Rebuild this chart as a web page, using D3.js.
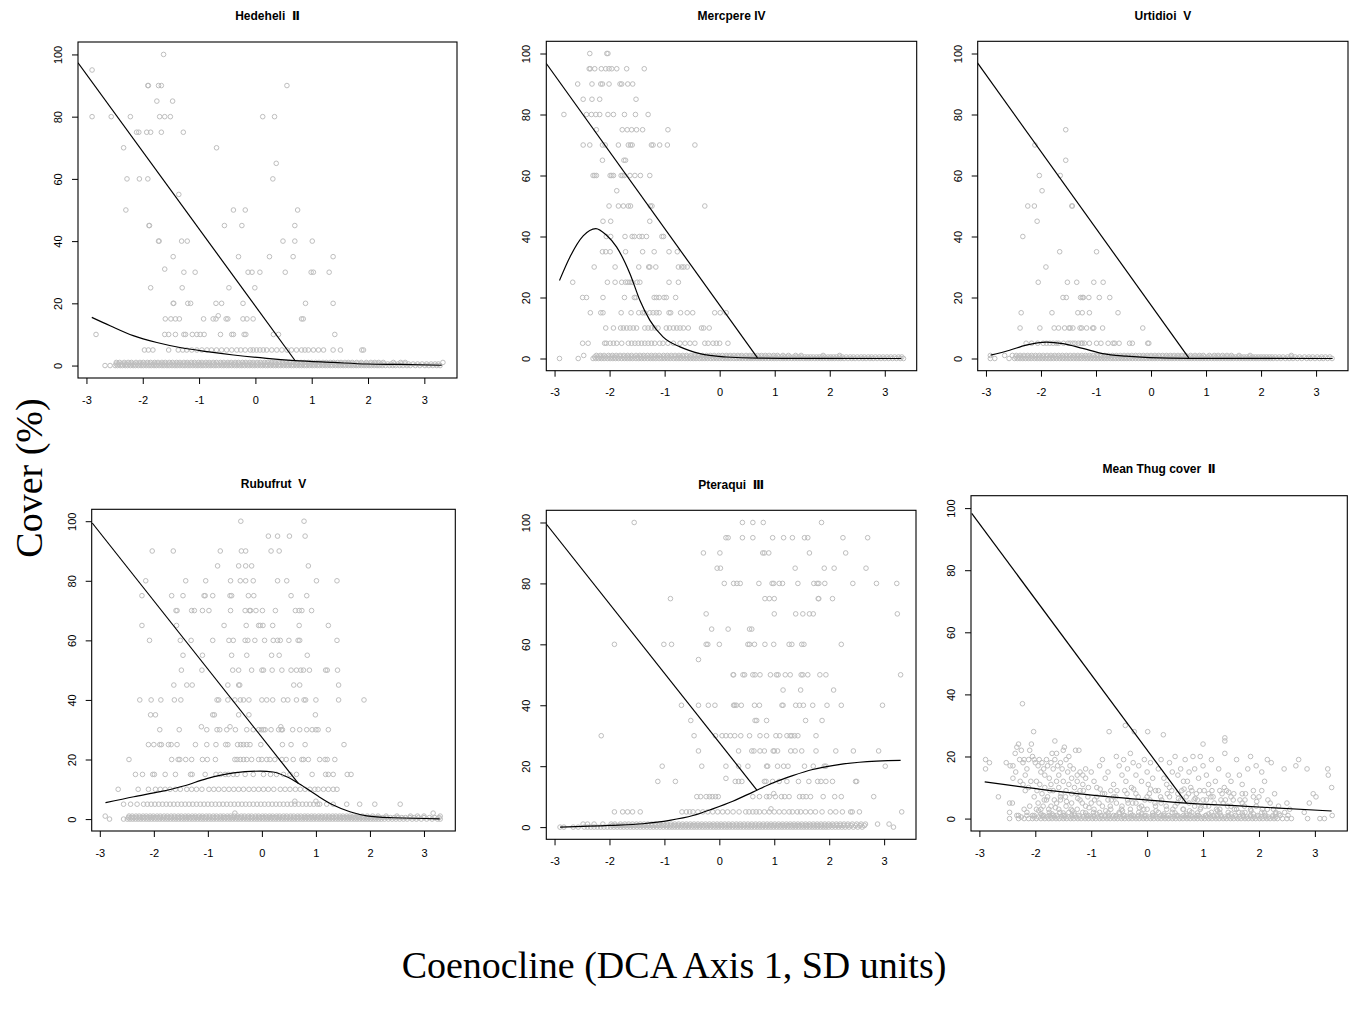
<!DOCTYPE html>
<html>
<head>
<meta charset="utf-8">
<script src="https://cdnjs.cloudflare.com/ajax/libs/d3/7.8.5/d3.min.js"></script>
<style>
body { margin: 0; background: #fff; }
.tick text { font-family: "Liberation Sans", Arial, sans-serif; font-size: 11px; fill: #000; }
.title { font-family: "Liberation Sans", "DejaVu Sans", Arial, sans-serif; font-size: 12px; font-weight: bold; white-space: pre; }
.big { font-family: "Liberation Serif", "Times New Roman", serif; font-size: 38px; }
</style>
</head>
<body>
<script>
// ticks, titles
var xTicks = [-3, -2, -1, 0, 1, 2, 3]
var yTicks = [0, 20, 40, 60, 80, 100]
var titles = ["Hedeheli  \u2161", "Mercpere IV", "Urtidioi  V", "Rubufrut  V", "Pteraqui  \u2162", "Mean Thug cover  \u2161"]

// ---- Hedeheli: [cover, x values at that cover]
var hedeLevels = [
  [100, "-1.63"], [95, "-2.90"], [90, "-1.91 -1.90 -1.72 -1.67 0.56"], [85, "-1.75 -1.47"],
  [80, "-2.90 -2.56 -2.22 -1.70 -1.61 -1.51 0.13 0.34"], [75, "-2.11 -2.07 -1.93 -1.86 -1.67 -1.28"],
  [70, "-2.34 -0.69"], [65, "0.37"], [60, "-2.28 -2.06 -1.91 0.31"], [55, "-1.36"],
  [50, "-2.30 -0.39 -0.18 0.75"], [45, "-1.89 -1.88 -0.55 -0.24 0.70"],
  [40, "-1.72 -1.71 -1.31 -1.21 0.49 0.70 1.01"], [35, "-1.46 -0.30 0.25 0.67 1.38"], [31, "-1.61"],
  [30, "-1.27 -1.07 -0.13 -0.06 0.08 0.53 0.99 1.03 1.31"], [25, "-1.86 -1.30 -0.47 -0.01"],
  [20, "-1.46 -1.45 -1.20 -1.15 -0.70 -0.60 -0.22 0.89 1.38"], [16, "-0.66"],
  [15, "-1.60 -1.50 -1.42 -1.35 -0.92 -0.75 -0.70 -0.52 -0.49 -0.22 -0.15 -0.04 0.82 0.85"],
  [10, "-2.83 -1.61 -1.54 -1.42 -1.27 -1.24 -1.12 -1.04 -0.98 -0.91 -0.62 -0.42 -0.39 -0.20 -0.17 0.32 0.41 1.41"],
  [5, "-1.97 -1.90 -1.82 -1.54 -1.37 -1.29 -1.22 -1.13 -1.04 -0.95 -0.86 -0.78 -0.69 -0.60 -0.51 -0.42 -0.33 -0.26 -0.18 -0.09 -0.04 0.02 0.08 0.14 0.20 0.29 0.38 0.47 0.56 0.64 0.73 0.82 0.88 0.94 1.03 1.12 1.21 1.38 1.51 1.89 1.92"]
]
var hedeZero = "-2.67 -2.58 -2.49 -2.45 -2.40 -2.36 -2.31 -2.27 -2.22 -2.17 -2.13 -2.08 -2.03 -1.99 -1.94 -1.89 -1.85 -1.80 -1.76 -1.71 -1.66 -1.62 -1.57 -1.53 -1.48 -1.43 -1.39 -1.34 -1.29 -1.25 -1.20 -1.16 -1.11 -1.06 -1.02 -0.97 -0.93 -0.88 -0.83 -0.79 -0.74 -0.70 -0.65 -0.60 -0.56 -0.51 -0.47 -0.42 -0.37 -0.33 -0.28 -0.24 -0.19 -0.14 -0.10 -0.05 -0.01 0.04 0.09 0.13 0.18 0.22 0.27 0.32 0.36 0.41 0.45 0.50 0.55 0.59 0.64 0.68 0.73 0.78 0.82 0.87 0.91 0.96 1.01 1.05 1.10 1.14 1.19 1.24 1.28 1.33 1.37 1.42 1.47 1.51 1.56 1.60 1.65 1.70 1.74 1.79 1.83 1.88 1.93 1.97 2.02 2.06 2.11 2.16 2.20 2.25 2.31 2.38 2.44 2.49 2.56 2.62 2.69 2.75 2.84 2.92 3.01 3.08 3.15 3.22 3.28"
var hedeHalf = "-2.47 -2.43 -2.38 -2.33 -2.29 -2.24 -2.19 -2.15 -2.10 -2.05 -2.01 -1.96 -1.92 -1.87 -1.82 -1.78 -1.73 -1.68 -1.64 -1.59 -1.55 -1.50 -1.45 -1.41 -1.36 -1.32 -1.27 -1.22 -1.18 -1.13 -1.08 -1.04 -0.99 -0.95 -0.90 -0.85 -0.81 -0.76 -0.72 -0.67 -0.62 -0.58 -0.53 -0.49 -0.44 -0.39 -0.35 -0.30 -0.26 -0.21 -0.16 -0.12 -0.07 -0.03 0.02 0.06 0.11 0.15 0.20 0.25 0.29 0.34 0.38 0.43 0.48 0.52 0.57 0.61 0.66 0.71 0.75 0.80 0.84 0.89 0.94 0.98 1.03 1.07 1.12 1.17 1.21 1.26 1.30 1.35 1.40 1.44 1.49 1.53 1.58 1.63 1.67 1.72 1.76 1.81 1.86 1.90 1.95 1.99 2.04 2.09 2.13 2.18 2.23 2.28 2.35 2.41 2.47 2.53 2.59 2.66 2.72 2.80 2.88 2.96 3.04 3.12 3.19 3.25"
var hedeOne = "-2.47 -2.41 -2.33 -2.26 -2.20 -2.12 -2.05 -1.99 -1.92 -1.86 -1.79 -1.73 -1.66 -1.60 -1.53 -1.47 -1.40 -1.34 -1.27 -1.21 -1.14 -1.08 -1.01 -0.95 -0.88 -0.82 -0.75 -0.69 -0.62 -0.56 -0.49 -0.43 -0.36 -0.30 -0.23 -0.17 -0.10 -0.04 0.03 0.09 0.16 0.22 0.29 0.35 0.42 0.48 0.55 0.61 0.68 0.74 0.81 0.87 0.94 1.00 1.07 1.13 1.20 1.26 1.33 1.39 1.46 1.52 1.59 1.65 1.72 1.80 1.88 1.97 2.05 2.12 2.19 2.27 2.45 2.58 2.66 3.33"
var hedeCurve = [[-2.905, 15.5], [-2.58, 12.8], [-2.17, 9.6], [-1.75, 7.4], [-1.34, 5.8], [-0.86, 4.5], [-0.39, 3.4], [0.2, 2.3], [0.7, 1.6], [1.385, 1.0], [1.98, 0.5], [2.57, 0.35], [3.31, 0.1]]
var hedeLine = [[-3.15, 97.3], [0.70, 1.7]]

// ---- Mercpere
var mercLevels = [
  [100, "-2.36 -2.05 -2.03"],
  [95, "-2.37 -2.35 -2.27 -2.15 -2.07 -2.01 -1.96 -1.87 -1.69 -1.37"],
  [90, "-2.58 -2.32 -2.16 -2.13 -2.01 -1.81 -1.78 -1.67 -1.58"],
  [85, "-2.48 -2.32 -2.18 -1.52"],
  [80, "-2.83 -2.42 -2.33 -2.25 -2.18 -2.03 -1.93 -1.73 -1.53 -1.30"],
  [75, "-2.24 -1.77 -1.68 -1.60 -1.51 -1.40 -0.94"],
  [70, "-2.48 -2.36 -2.13 -2.08 -1.84 -1.66 -1.62 -1.59 -1.24 -1.21 -1.09 -0.95 -0.45"],
  [65, "-2.13 -1.74 -1.71"],
  [60, "-2.30 -2.27 -2.24 -1.99 -1.96 -1.93 -1.79 -1.76 -1.73 -1.63 -1.54 -1.44 -1.27"],
  [55, "-1.87"],
  [50, "-2.01 -1.84 -1.75 -1.66 -1.62 -1.26 -1.23 -0.27"],
  [45, "-2.12 -1.98 -1.27"],
  [40, "-2.06 -1.98 -1.72 -1.59 -1.55 -1.46 -1.41 -1.33 -1.05 -1.02"],
  [35, "-2.13 -2.07 -1.99 -1.71 -1.40 -1.19 -0.92 -0.77"],
  [30, "-2.28 -1.90 -1.47 -1.29 -1.27 -1.16 -0.75 -0.69 -0.65 -0.59"],
  [25, "-2.67 -2.04 -1.90 -1.78 -1.71 -1.67 -1.63 -1.59 -1.50 -1.45 -0.92 -0.75"],
  [20, "-2.49 -2.42 -2.12 -1.73 -1.55 -1.52 -1.19 -1.15 -1.10 -1.01 -0.97 -0.80"],
  [15, "-2.35 -2.16 -2.12 -1.79 -1.61 -1.47 -1.40 -1.36 -1.27 -1.21 -1.15 -1.10 -0.92 -0.89 -0.71 -0.59 -0.49 -0.09 0.01 0.12"],
  [10, "-2.07 -1.93 -1.80 -1.75 -1.69 -1.63 -1.57 -1.51 -1.36 -1.30 -1.24 -1.18 -1.12 -0.97 -0.91 -0.84 -0.78 -0.72 -0.66 -0.57 -0.33 -0.29 -0.19"],
  [5, "-2.49 -2.39 -2.09 -2.06 -1.99 -1.93 -1.87 -1.78 -1.66 -1.60 -1.54 -1.48 -1.42 -1.36 -1.30 -1.24 -1.18 -1.09 -1.03 -0.94 -0.84 -0.72 -0.63 -0.54 -0.45 -0.27 -0.21 -0.12 -0.06 0.00 0.15"]
]
var mercZero = "-2.91 -2.57 -2.30 -2.25 -2.20 -2.15 -2.10 -2.04 -1.99 -1.94 -1.89 -1.84 -1.78 -1.73 -1.68 -1.63 -1.58 -1.52 -1.47 -1.42 -1.37 -1.31 -1.26 -1.21 -1.16 -1.10 -1.05 -1.00 -0.95 -0.90 -0.84 -0.79 -0.74 -0.69 -0.63 -0.58 -0.53 -0.48 -0.43 -0.37 -0.32 -0.27 -0.22 -0.16 -0.11 -0.06 -0.01 0.05 0.10 0.15 0.20 0.26 0.31 0.36 0.41 0.47 0.52 0.57 0.62 0.68 0.73 0.78 0.83 0.89 0.94 0.99 1.04 1.10 1.15 1.20 1.25 1.31 1.36 1.41 1.46 1.52 1.57 1.62 1.67 1.73 1.78 1.83 1.88 1.94 1.99 2.04 2.09 2.15 2.20 2.26 2.33 2.40 2.46 2.53 2.60 2.66 2.73 2.79 2.86 2.93 3.00 3.07 3.14 3.21 3.28 3.34"
var mercHalf = "-2.27 -2.22 -2.17 -2.12 -2.07 -2.01 -1.96 -1.91 -1.86 -1.81 -1.75 -1.70 -1.65 -1.60 -1.55 -1.49 -1.44 -1.39 -1.34 -1.28 -1.23 -1.18 -1.13 -1.07 -1.02 -0.97 -0.92 -0.87 -0.81 -0.76 -0.71 -0.66 -0.60 -0.55 -0.50 -0.45 -0.40 -0.34 -0.29 -0.24 -0.19 -0.13 -0.08 -0.03 0.02 0.08 0.13 0.18 0.23 0.29 0.34 0.39 0.44 0.50 0.55 0.60 0.65 0.71 0.76 0.81 0.86 0.92 0.97 1.02 1.07 1.13 1.18 1.23 1.28 1.34 1.39 1.44 1.49 1.55 1.60 1.65 1.70 1.76 1.81 1.86 1.91 1.97 2.02 2.07 2.12 2.18 2.23 2.30 2.37 2.43 2.50 2.57 2.63 2.70 2.76 2.83 2.90 2.97 3.04 3.11 3.18 3.25 3.31"
var mercOne = "-2.47 -2.24 -2.17 -2.10 -2.02 -1.95 -1.88 -1.81 -1.74 -1.67 -1.60 -1.52 -1.45 -1.38 -1.31 -1.24 -1.17 -1.10 -1.02 -0.95 -0.88 -0.81 -0.74 -0.67 -0.60 -0.52 -0.45 -0.38 -0.31 -0.24 -0.17 -0.10 -0.02 0.05 0.12 0.19 0.26 0.33 0.40 0.48 0.55 0.62 0.69 0.76 0.83 0.90 0.98 1.05 1.15 1.25 1.38 1.48 1.88 2.18"
var mercCurve = [[-2.91, 25.6], [-2.72, 33.3], [-2.48, 40.2], [-2.25, 42.6], [-2.06, 40.5], [-1.874, 36.6], [-1.63, 27.8], [-1.45, 19.1], [-1.27, 12.6], [-1.03, 7.1], [-0.72, 3.8], [-0.36, 1.6], [0.12, 0.5], [0.7, 0.1], [1.5, 0.05], [3.3, 0]]
var mercLine = [[-3.153, 96.8], [0.687, 0.2]]

// ---- Urtidioi
var urtiLevels = [
  [75, "-1.55"], [70, "-2.11"], [65, "-1.55"], [60, "-2.03 -1.65"], [55, "-1.98"],
  [50, "-2.24 -2.12 -1.44 -1.43"], [45, "-2.07"], [40, "-2.33"], [35, "-1.66 -0.99"], [30, "-1.91"],
  [25, "-2.05 -1.52 -1.35 -1.04 -0.87"],
  [20, "-1.60 -1.54 -1.28 -1.25 -1.23 -1.13 -0.94 -0.75"],
  [15, "-2.36 -1.80 -1.33 -1.25 -1.12 -0.60"],
  [10, "-2.38 -2.02 -1.76 -1.68 -1.57 -1.49 -1.47 -1.42 -1.29 -1.26 -1.17 -1.06 -1.04 -0.88 -0.15"],
  [5, "-2.27 -2.17 -2.06 -1.96 -1.90 -1.84 -1.78 -1.72 -1.68 -1.59 -1.51 -1.47 -1.42 -1.38 -1.32 -1.27 -1.25 -1.21 -1.12 -0.99 -0.91 -0.78 -0.69 -0.66 -0.58 -0.39 -0.34 -0.06 -0.04"]
]
var urtiZero = "-2.92 -2.84 -2.58 -2.48 -2.43 -2.38 -2.33 -2.28 -2.23 -2.18 -2.12 -2.07 -2.02 -1.97 -1.92 -1.87 -1.82 -1.77 -1.72 -1.66 -1.61 -1.56 -1.51 -1.46 -1.41 -1.36 -1.31 -1.26 -1.20 -1.15 -1.10 -1.05 -1.00 -0.95 -0.90 -0.85 -0.80 -0.74 -0.69 -0.64 -0.59 -0.54 -0.49 -0.44 -0.39 -0.34 -0.28 -0.23 -0.18 -0.13 -0.08 -0.03 0.02 0.07 0.12 0.18 0.23 0.28 0.33 0.38 0.43 0.48 0.53 0.58 0.64 0.69 0.74 0.79 0.84 0.89 0.94 0.99 1.04 1.10 1.15 1.20 1.25 1.30 1.35 1.40 1.45 1.50 1.56 1.61 1.66 1.71 1.76 1.81 1.86 1.91 1.96 2.02 2.07 2.12 2.17 2.22 2.29 2.36 2.44 2.51 2.58 2.66 2.74 2.83 2.90 2.98 3.06 3.13 3.21 3.29"
var urtiHalf = "-2.46 -2.41 -2.36 -2.31 -2.25 -2.20 -2.15 -2.10 -2.05 -2.00 -1.95 -1.90 -1.84 -1.79 -1.74 -1.69 -1.64 -1.59 -1.54 -1.49 -1.43 -1.38 -1.33 -1.28 -1.23 -1.18 -1.13 -1.08 -1.02 -0.97 -0.92 -0.87 -0.82 -0.77 -0.72 -0.67 -0.61 -0.56 -0.51 -0.46 -0.41 -0.36 -0.31 -0.26 -0.20 -0.15 -0.10 -0.05 0.00 0.05 0.10 0.15 0.21 0.26 0.31 0.36 0.41 0.46 0.51 0.56 0.62 0.67 0.72 0.77 0.82 0.87 0.92 0.97 1.03 1.08 1.13 1.18 1.23 1.28 1.33 1.38 1.44 1.49 1.54 1.59 1.64 1.69 1.74 1.79 1.85 1.90 1.95 2.00 2.05 2.10 2.15 2.20 2.26 2.33 2.40 2.48 2.55 2.62 2.70 2.79 2.87 2.94 3.02 3.10 3.17 3.25"
var urtiOne = "-2.92 -2.66 -2.52 -2.45 -2.38 -2.31 -2.24 -2.17 -2.10 -2.03 -1.96 -1.89 -1.82 -1.75 -1.68 -1.61 -1.54 -1.47 -1.40 -1.33 -1.26 -1.19 -1.12 -1.05 -0.98 -0.91 -0.84 -0.77 -0.70 -0.63 -0.56 -0.49 -0.42 -0.35 -0.28 -0.21 -0.14 -0.07 0.00 0.07 0.14 0.21 0.28 0.35 0.42 0.49 0.56 0.63 0.72 0.80 0.88 0.95 1.06 1.15 1.22 1.30 1.38 1.46 1.60 1.80 2.55"
var urtiCurve = [[-2.915, 1.1], [-2.57, 2.7], [-2.27, 4.4], [-1.9, 5.4], [-1.6, 4.9], [-1.24, 3.3], [-0.88, 1.6], [-0.45, 0.75], [-0.03, 0.3], [0.7, 0.05], [3.3, 0]]
var urtiLine = [[-3.157, 97.0], [0.686, 0.2]]

// ---- Rubufrut
var rubuLevels = [
  [100, "-0.39 0.78"], [95, "0.12 0.29 0.51 0.80"],
  [90, "-2.03 -1.64 -0.77 -0.38 -0.30 0.17 0.32"], [85, "-0.82 -0.43 -0.30 -0.19 0.86"],
  [80, "-2.15 -1.41 -1.04 -0.58 -0.40 -0.30 -0.16 0.29 0.46 1.01 1.39"],
  [75, "-2.22 -1.67 -1.46 -1.07 -1.05 -0.91 -0.59 -0.56 -0.25 -0.15 0.54 0.83"],
  [70, "-1.59 -1.57 -1.30 -1.25 -1.10 -0.98 -0.58 -0.31 -0.23 -0.21 -0.11 0.01 0.25 0.62 0.69 0.74 0.92"],
  [65, "-2.22 -1.58 -0.70 -0.29 -0.06 -0.03 0.02 0.20 0.69 1.23"],
  [60, "-2.08 -1.51 -1.31 -0.91 -0.61 -0.53 -0.31 -0.26 -0.13 0.05 0.21 0.29 0.34 0.50 0.67 0.70 1.39"],
  [55, "-1.46 -1.10 -0.56 -0.28 0.18 0.32 0.84"],
  [50, "-1.49 -1.11 -0.54 -0.43 -0.19 0.00 0.03 0.19 0.37 0.54 0.64 0.72 0.77 0.88 1.18 1.21 1.40"],
  [45, "-1.63 -1.39 -1.29 -0.63 -0.43 -0.41 0.59 0.70 1.42"],
  [40, "-2.26 -2.05 -1.87 -1.62 -1.50 -0.83 -0.80 -0.63 -0.50 -0.40 -0.34 -0.24 0.00 0.09 0.20 0.40 0.48 0.64 0.78 0.81 1.00 1.42 1.89"],
  [35, "-2.06 -1.97 -0.91 -0.88 -0.43 -0.24 0.99"], [31, "-1.12 -0.59 0.35"],
  [30, "-1.89 -1.53 -1.02 -0.83 -0.78 -0.65 -0.49 -0.28 -0.16 -0.06 -0.01 0.03 0.06 0.17 0.31 0.36 0.38 0.57 0.70 0.83 0.93 1.00 1.04 1.23"],
  [25, "-2.10 -2.00 -1.89 -1.86 -1.73 -1.68 -1.57 -1.23 -1.02 -0.85 -0.67 -0.63 -0.45 -0.39 -0.34 -0.28 -0.22 -0.02 0.38 0.54 0.80 1.52"],
  [20, "-2.46 -1.67 -1.55 -1.52 -1.41 -1.30 -1.10 -1.01 -0.86 -0.50 -0.46 -0.40 -0.34 -0.28 -0.19 -0.06 0.00 0.09 0.15 0.24 0.37 0.45 0.58 0.74 0.77 0.86 1.07 1.17 1.21 1.35"],
  [15, "-2.34 -2.21 -2.02 -1.99 -1.79 -1.60 -1.32 -1.29 -1.05 -0.85 -0.77 -0.68 -0.62 -0.53 -0.46 -0.31 -0.16 0.03 0.16 0.27 0.40 0.52 0.64 0.93 1.18 1.23 1.32 1.58 1.65"],
  [10, "-2.66 -2.29 -2.10 -1.97 -1.88 -1.79 -1.70 -1.60 -1.51 -1.39 -1.30 -1.21 -1.11 -0.98 -0.89 -0.80 -0.70 -0.61 -0.52 -0.43 -0.34 -0.24 -0.15 -0.06 0.03 0.12 0.22 0.34 0.43 0.52 0.62 0.71 0.80 0.89 0.98 1.04 1.14 1.23 1.32 1.39"],
  [6, "0.61 1.00"],
  [5, "-2.56 -2.43 -2.31 -2.19 -2.12 -2.05 -1.98 -1.91 -1.84 -1.77 -1.70 -1.63 -1.56 -1.49 -1.42 -1.35 -1.28 -1.21 -1.14 -1.07 -1.00 -0.93 -0.86 -0.79 -0.72 -0.65 -0.58 -0.51 -0.44 -0.37 -0.30 -0.23 -0.16 -0.09 -0.02 0.05 0.12 0.19 0.26 0.33 0.40 0.47 0.54 0.61 0.68 0.75 0.82 0.89 0.96 1.03 1.07 1.20 1.32 1.57 1.81 2.09 2.56"],
  [2, "-0.50 3.17"]
]
var rubuZero = "-2.82 -2.56 -2.49 -2.44 -2.39 -2.34 -2.29 -2.24 -2.19 -2.14 -2.09 -2.04 -1.99 -1.94 -1.89 -1.84 -1.79 -1.74 -1.69 -1.64 -1.59 -1.54 -1.49 -1.44 -1.39 -1.34 -1.29 -1.24 -1.19 -1.14 -1.09 -1.04 -0.99 -0.94 -0.89 -0.84 -0.79 -0.74 -0.69 -0.64 -0.59 -0.54 -0.49 -0.44 -0.39 -0.34 -0.29 -0.24 -0.19 -0.14 -0.09 -0.04 0.01 0.06 0.11 0.16 0.21 0.26 0.31 0.36 0.41 0.46 0.51 0.56 0.61 0.66 0.71 0.76 0.81 0.86 0.91 0.96 1.01 1.06 1.11 1.16 1.21 1.26 1.31 1.36 1.41 1.46 1.51 1.56 1.61 1.66 1.71 1.76 1.81 1.86 1.91 1.96 2.01 2.06 2.11 2.16 2.21 2.27 2.34 2.41 2.48 2.55 2.62 2.69 2.78 2.86 2.95 3.05 3.15 3.25 3.30"
var rubuHalf = "-2.47 -2.42 -2.37 -2.32 -2.27 -2.22 -2.17 -2.12 -2.07 -2.02 -1.97 -1.92 -1.87 -1.82 -1.77 -1.72 -1.67 -1.62 -1.57 -1.52 -1.47 -1.42 -1.37 -1.32 -1.27 -1.22 -1.17 -1.12 -1.07 -1.02 -0.97 -0.92 -0.87 -0.82 -0.77 -0.72 -0.67 -0.62 -0.57 -0.52 -0.47 -0.42 -0.37 -0.32 -0.27 -0.22 -0.17 -0.12 -0.07 -0.02 0.03 0.08 0.13 0.18 0.23 0.28 0.33 0.38 0.43 0.48 0.53 0.58 0.63 0.68 0.73 0.78 0.83 0.88 0.93 0.98 1.03 1.08 1.13 1.18 1.23 1.28 1.33 1.38 1.43 1.48 1.53 1.58 1.63 1.68 1.73 1.78 1.83 1.88 1.93 1.98 2.03 2.08 2.13 2.18 2.24 2.31 2.38 2.45 2.52 2.59 2.66 2.74 2.82 2.90 3.00 3.10 3.20 3.28"
var rubuOne = "-2.90 -2.46 -2.40 -2.33 -2.27 -2.20 -2.14 -2.07 -2.01 -1.94 -1.88 -1.81 -1.75 -1.68 -1.62 -1.55 -1.49 -1.42 -1.36 -1.29 -1.23 -1.16 -1.10 -1.03 -0.97 -0.90 -0.84 -0.77 -0.71 -0.64 -0.58 -0.51 -0.45 -0.38 -0.32 -0.25 -0.19 -0.12 -0.06 0.01 0.07 0.14 0.20 0.27 0.33 0.40 0.46 0.53 0.59 0.66 0.72 0.79 0.85 0.92 0.98 1.05 1.11 1.18 1.24 1.31 1.37 1.44 1.50 1.57 1.63 1.70 1.78 1.86 1.95 2.05 2.15 2.30 2.50 2.75 2.88 3.00 3.30"
var rubuCurve = [[-2.895, 5.5], [-2.37, 7.5], [-1.88, 9.2], [-1.45, 11.1], [-1.02, 13.6], [-0.52, 15.5], [-0.03, 16.1], [0.21, 15.8], [0.46, 14.2], [0.705, 11.7], [1.01, 8.05], [1.32, 4.7], [1.63, 2.45], [1.94, 1.1], [2.43, 0.45], [3.29, 0.1]]
var rubuLine = [[-3.14, 99.4], [0.674, 12.0]]

// ---- Pteraqui
var pterLevels = [
  [100, "-1.55 0.42 0.61 0.80 1.86"],
  [95, "0.12 0.16 0.42 0.61 0.97 1.17 1.33 1.55 1.61 2.25 2.70"],
  [90, "-0.29 0.01 0.79 0.82 0.90 1.64 2.30"],
  [85, "-0.04 0.02 1.38 1.91 2.09 2.67"],
  [80, "0.09 0.26 0.32 0.38 0.72 0.96 0.99 1.09 1.15 1.43 1.72 1.78 1.81 1.92 2.43 2.86 3.23"],
  [75, "-0.89 0.83 0.91 1.00 1.80 1.81 2.06"],
  [70, "-0.24 1.00 1.39 1.52 1.64 1.71 3.24"],
  [65, "-0.14 0.16 0.55 0.59"],
  [60, "-1.91 -1.01 -0.87 -0.24 -0.21 0.00 0.52 0.55 0.64 0.83 0.99 1.27 1.32 1.50 1.54 2.22"],
  [55, "-0.38"],
  [50, "0.25 0.26 0.43 0.46 0.61 0.65 0.74 0.93 1.04 1.07 1.20 1.29 1.49 1.52 1.61 1.83 1.94 3.30"],
  [45, "1.16 1.48 2.08"],
  [40, "-0.69 -0.38 -0.20 -0.08 0.26 0.28 0.31 0.40 0.64 0.73 1.14 1.16 1.39 1.46 1.53 1.70 1.96 2.22 2.97"],
  [35, "-0.52 0.65 0.68 0.86 1.57 1.87"],
  [30, "-2.15 -0.46 -0.07 0.05 0.12 0.20 0.28 0.39 0.55 0.74 0.86 1.03 1.10 1.23 1.29 1.32 1.37 1.43 1.76"],
  [25, "-0.38 0.35 0.59 0.63 0.74 0.82 0.98 1.00 1.06 1.30 1.38 1.50 1.76 2.12 2.44 2.90"],
  [20, "-1.04 -0.32 0.12 0.35 0.52 0.86 0.88 1.06 1.17 1.25 1.55 1.71 1.91 1.94 3.02"],
  [16, "0.12"],
  [15, "-1.12 -0.80 0.29 0.35 0.41 0.82 0.85 0.97 1.09 1.23 1.44 1.63 1.79 1.85 1.94 2.06 2.48 2.50"],
  [11, "0.99"],
  [10, "-0.41 -0.34 -0.24 -0.18 -0.13 -0.07 -0.02 0.61 0.73 0.86 0.91 1.02 1.13 1.19 1.27 1.46 1.52 1.58 1.66 1.89 2.10 2.22 2.81"],
  [6, "0.94"],
  [5, "-1.91 -1.76 -1.67 -1.58 -1.44 -0.68 -0.60 -0.54 -0.48 -0.39 -0.30 -0.21 -0.12 -0.03 0.06 0.15 0.25 0.36 0.48 0.54 0.61 0.67 0.73 0.82 0.91 1.00 1.09 1.18 1.27 1.33 1.42 1.48 1.57 1.66 1.75 1.87 2.02 2.12 2.24 2.39 2.42 2.55 3.32"]
]
var pterZero = "-2.90 -2.83 -2.66 -2.57 -2.46 -2.40 -2.34 -2.28 -2.22 -2.16 -2.10 -2.04 -1.98 -1.92 -1.86 -1.80 -1.74 -1.68 -1.62 -1.56 -1.50 -1.44 -1.38 -1.32 -1.26 -1.20 -1.14 -1.08 -1.02 -0.96 -0.91 -0.86 -0.81 -0.76 -0.71 -0.66 -0.61 -0.56 -0.51 -0.46 -0.41 -0.36 -0.31 -0.26 -0.21 -0.16 -0.11 -0.06 -0.01 0.04 0.09 0.14 0.19 0.24 0.29 0.34 0.39 0.44 0.49 0.54 0.59 0.64 0.69 0.74 0.79 0.84 0.89 0.94 0.99 1.04 1.09 1.14 1.19 1.24 1.29 1.34 1.39 1.44 1.49 1.54 1.59 1.64 1.69 1.74 1.79 1.84 1.89 1.94 1.99 2.05 2.11 2.17 2.23 2.29 2.36 2.44 2.52 2.60 3.17"
var pterHalf = "-1.95 -1.89 -1.83 -1.77 -1.71 -1.65 -1.59 -1.53 -1.47 -1.41 -1.35 -1.29 -1.23 -1.17 -1.11 -1.05 -0.99 -0.94 -0.89 -0.84 -0.79 -0.74 -0.69 -0.64 -0.59 -0.54 -0.49 -0.44 -0.39 -0.34 -0.29 -0.24 -0.19 -0.14 -0.09 -0.04 0.01 0.06 0.11 0.16 0.21 0.26 0.31 0.36 0.41 0.46 0.51 0.56 0.61 0.66 0.71 0.76 0.81 0.86 0.91 0.96 1.01 1.06 1.11 1.16 1.21 1.26 1.31 1.36 1.41 1.46 1.51 1.56 1.61 1.66 1.71 1.76 1.81 1.86 1.91 1.96 2.02 2.08 2.14 2.20 2.26 2.33 2.40 2.48 2.56 2.64"
var pterOne = "-2.48 -2.40 -2.28 -2.12 -1.97 -1.90 -1.80 -1.72 -1.65 -1.58 -1.51 -1.44 -1.37 -1.30 -1.23 -1.16 -1.09 -1.02 -0.95 -0.88 -0.81 -0.74 -0.67 -0.60 -0.53 -0.46 -0.39 -0.32 -0.25 -0.18 -0.11 -0.04 0.03 0.10 0.17 0.24 0.31 0.38 0.45 0.52 0.59 0.66 0.73 0.80 0.87 0.94 1.01 1.08 1.15 1.22 1.29 1.36 1.43 1.50 1.57 1.64 1.71 1.78 1.85 1.92 1.99 2.06 2.13 2.20 2.27 2.34 2.42 2.50 2.58 2.66 2.88 3.09"
var pterCurve = [[-2.9, 0], [-1.995, 0.55], [-1.39, 1.1], [-0.905, 2.2], [-0.48, 3.8], [-0.12, 6.0], [0.245, 8.5], [0.61, 11.5], [0.97, 14.5], [1.335, 16.9], [1.7, 18.9], [2.06, 20.2], [2.55, 21.3], [3.3, 21.9]]
var pterLine = [[-3.15, 99.5], [0.687, 12.1]]

// ---- Mean Thug cover: "x,y" pairs
var thugPairs = "-2.89,19 -2.89,16 -2.82,18 -2.66,7 -2.52,18 -2.45,17 -2.40,17 -2.36,21 -2.33,23 -2.30,24 -2.28,19 -2.25,22 -2.23,37 -2.22,18 -2.20,19 -2.18,14 -2.15,16 -2.12,19 -2.10,22 -2.07,24 -2.05,20 -2.03,28 -2.02,19 -2.00,18 -1.98,12 -1.95,17 -1.93,19 -1.90,15 -1.88,18 -1.85,16 -1.83,14 -1.80,19 -1.78,17 -1.75,13 -1.72,18 -1.70,21 -1.68,16 -1.65,25 -1.65,19 -1.62,21 -1.60,17 -1.58,14 -1.55,18 -1.52,16 -1.50,22 -1.48,23 -1.45,19 -1.42,15 -1.40,20 -1.38,17 -1.35,13 -1.32,16 -1.28,22 -1.25,14 -1.22,22 -1.20,15 -1.15,14 -1.10,16 " +
  "-2.46,5 -2.41,5 -2.40,13 -2.35,15 -2.27,12 -2.22,11 -2.18,9 -2.12,10 -2.08,12 -2.02,7 -1.97,9 -1.92,11 -1.88,8 -1.83,10 -1.78,7 -1.72,11 -1.68,9 -1.62,12 -1.58,10 -1.55,7 -1.50,12 -1.45,9 -1.40,11 -1.35,8 -1.30,10 -1.25,12 -1.20,9 -1.15,11 -1.10,13 -1.05,10 -1.00,15 -0.95,12 -0.90,10 " +
  "-2.46,2 -2.33,1 -2.25,0.5 -2.20,3 -2.15,2 -2.10,4 -2.05,1 -1.95,5 -1.90,3 -1.85,1 -1.80,6 -1.75,2 -1.72,4 -1.68,1 -1.62,5 -1.58,3 -1.55,6 -1.50,1 -1.45,4 -1.40,2 -1.35,5 -1.30,1 -1.25,3 -1.20,6 -1.15,2 -1.10,4 -1.05,1 -1.00,5 -0.95,3 -0.90,7 -0.85,2 -0.80,4 -0.75,1 -0.70,6 -0.65,3 -0.60,1 -0.55,5 -0.50,2 -0.45,4 -0.40,1 -0.35,6 -0.30,3 -0.25,1 -0.20,5 -0.15,2 -0.10,4 -0.05,1 0.00,3 0.05,6 0.10,1 0.15,4 0.20,2 0.25,5 0.30,1 0.35,3 0.40,7 0.45,2 0.50,4 0.55,1 0.60,6 0.65,3 0.70,1 0.75,5 0.80,2 0.85,4 0.90,1 0.95,3 1.00,6 1.05,1 1.10,4 1.15,2 1.20,5 1.25,1 1.30,3 1.40,6 1.45,2 1.50,4 1.60,3 1.70,5 1.75,2 1.85,3 1.95,4 2.05,2 2.15,3 2.30,2 " +
  "-1.98,3 -1.86,4 -1.76,3 -1.66,6 -1.56,2 -1.46,7 -1.36,3 -1.26,8 -1.16,5 -1.06,7 -0.96,2 -0.86,5 -0.76,8 -0.66,4 -0.56,7 -0.46,3 -0.36,8 -0.26,5 -0.16,7 -0.06,3 0.04,8 0.14,5 0.24,7 0.34,4 0.44,9 0.54,5 0.64,3 0.74,8 0.84,6 0.94,9 1.04,4 1.14,7 1.24,3 1.34,8 1.44,4 1.54,6 1.64,2 1.74,4 " +
  "-1.94,2.5 -1.84,6 -1.74,9 -1.64,3.5 -1.54,8 -1.44,5.5 -1.34,2.5 -1.24,6.5 -1.14,9 -1.04,3.5 -0.94,6 -0.84,9.5 -0.74,2.5 -0.64,6 -0.54,9 -0.44,2.5 -0.34,5 -0.24,9.5 -0.14,3.5 -0.04,6 0.06,9.5 0.16,2.5 0.26,6 0.36,8 0.46,3 0.56,6.5 0.66,9.5 0.76,2.5 0.86,6.5 0.96,3.5 1.06,6 1.16,9 1.26,2.5 1.36,5 1.46,8.5 1.56,3 1.66,6 1.76,8 1.86,2.5 1.96,5.5 2.06,3 2.16,6 2.26,3 2.36,1.5 2.46,2 " +
  "-1.90,1.5 -1.70,1.5 -1.50,1.8 -1.30,1.5 -1.10,1.8 -0.90,1.5 -0.70,1.8 -0.50,1.5 -0.30,1.8 -0.10,1.5 0.10,1.8 0.30,1.5 0.50,1.8 0.70,1.5 0.90,1.8 1.10,1.5 1.30,1.8 1.50,1.5 1.70,1.8 1.90,1.5 2.10,1.8 2.30,1.5 " +
  "-0.85,17 -0.80,19 -0.75,13 -0.70,15 -0.68,28 -0.65,9 -0.60,11 -0.55,20 -0.50,17 -0.45,14 -0.42,19 -0.39,30 -0.38,12 -0.35,16 -0.30,21 -0.28,10 -0.25,18 -0.23,28 -0.20,14 -0.15,17 -0.10,12 -0.05,19 0.00,15 0.01,28 0.02,11 0.06,18 0.10,13 0.15,9 0.20,16 0.25,19 0.29,27 0.30,13 0.35,11 0.40,18 0.45,15 0.50,20 0.55,14 0.60,16 0.62,9 0.68,19 0.72,12 0.75,15 0.78,10 0.82,20 0.85,16 0.88,8 0.92,13 0.95,20 1.00,24 1.00,17 1.02,9 1.06,14 1.10,11 1.15,19 1.18,7 1.22,12 1.28,16 1.32,6 1.38,10 1.39,26 1.39,25 1.39,21 1.42,9 1.45,14 1.50,12 1.55,8 1.60,19 1.65,14 1.70,11 1.75,6 1.80,16 1.85,20 1.90,9 1.95,17 2.00,7 2.05,15 2.10,12 2.15,19 2.22,18 2.28,8 2.35,4 2.45,16 2.50,5 2.55,3 2.66,17 2.71,19 2.86,16 2.90,5 2.97,8 3.02,7 3.23,16 3.24,14 3.30,10 3.31,1 2.81,2 " +
  "-0.80,8 -0.60,7 -0.40,9 -0.20,8 0.00,7 0.20,9 0.40,10 0.55,8 0.65,12 0.70,7 0.80,9 0.90,6 1.10,8 1.30,9 1.50,7 1.70,8 1.90,7 2.05,9 2.20,5"
var thugZero = "-2.46 -2.30 -2.20 -2.12 -2.05 -1.98 -1.90 -1.83 -1.76 -1.70 -1.63 -1.57 -1.50 -1.44 -1.37 -1.31 -1.24 -1.18 -1.11 -1.05 -0.98 -0.92 -0.85 -0.79 -0.72 -0.66 -0.59 -0.53 -0.46 -0.40 -0.33 -0.27 -0.20 -0.14 -0.07 -0.01 0.06 0.12 0.19 0.25 0.32 0.38 0.45 0.51 0.58 0.64 0.71 0.77 0.84 0.90 0.97 1.03 1.10 1.16 1.23 1.29 1.36 1.42 1.49 1.55 1.62 1.68 1.75 1.81 1.88 1.94 2.01 2.07 2.14 2.20 2.27 2.33 2.42 2.50 2.58 2.87 3.09 3.17"
var thugHalf = "-2.02 -1.94 -1.86 -1.79 -1.72 -1.66 -1.60 -1.53 -1.47 -1.40 -1.34 -1.27 -1.21 -1.14 -1.08 -1.01 -0.95 -0.88 -0.82 -0.75 -0.69 -0.62 -0.56 -0.49 -0.43 -0.36 -0.30 -0.23 -0.17 -0.10 -0.04 0.03 0.09 0.16 0.22 0.29 0.35 0.42 0.48 0.55 0.61 0.68 0.74 0.81 0.87 0.94 1.00 1.07 1.13 1.20 1.26 1.33 1.39 1.46 1.52 1.59 1.65 1.72 1.78 1.85 1.91 1.98 2.04 2.11 2.17 2.24 2.30"
var thugOne = "-2.30 -2.15 -2.02 -1.88 -1.75 -1.62 -1.48 -1.35 -1.22 -1.08 -0.95 -0.82 -0.68 -0.55 -0.42 -0.28 -0.15 -0.02 0.12 0.25 0.38 0.52 0.65 0.78 0.92 1.05 1.18 1.32 1.45 1.58 1.72 1.85 1.98 2.12 2.25 2.38 2.52"
var thugCurve = [[-2.905, 11.8], [-1.255, 8.05], [-0.07, 6.1], [0.7, 5.0], [1.71, 4.0], [3.30, 2.45]]
var thugLine = [[-3.137, 98.3], [0.703, 5.0]]

// layout: plot box [left, top, right, bottom], title baseline
var panels = [
  {levels: hedeLevels, zero: hedeZero, half: hedeHalf, one: hedeOne, curve: hedeCurve, line: hedeLine, box: [78, 42, 457, 378], ty: 20},
  {levels: mercLevels, zero: mercZero, half: mercHalf, one: mercOne, curve: mercCurve, line: mercLine, box: [546.3, 41.3, 916.7, 370.7], ty: 19.5},
  {levels: urtiLevels, zero: urtiZero, half: urtiHalf, one: urtiOne, curve: urtiCurve, line: urtiLine, box: [977.7, 41.3, 1348, 370.7], ty: 19.5},
  {levels: rubuLevels, zero: rubuZero, half: rubuHalf, one: rubuOne, curve: rubuCurve, line: rubuLine, box: [91.7, 509.3, 455.3, 831], ty: 488},
  {levels: pterLevels, zero: pterZero, half: pterHalf, one: pterOne, curve: pterCurve, line: pterLine, box: [546.3, 510.3, 916, 839.3], ty: 489},
  {levels: [], pairs: thugPairs, zero: thugZero, half: thugHalf, one: thugOne, curve: thugCurve, line: thugLine, box: [971, 495.7, 1347.3, 831], ty: 473}
]

var width = 1356, height = 1010
var svg = d3.select("body").append("svg").attr("width", width).attr("height", height)

function nums(s) { return s.trim().split(/\s+/).map(Number) }

function getPoints(p) {
  var pts = []
  p.levels.forEach(function(l) { nums(l[1]).forEach(function(x) { pts.push([x, l[0]]) }) })
  if (p.pairs) p.pairs.trim().split(/\s+/).forEach(function(s) { var a = s.split(","); pts.push([+a[0], +a[1]]) })
  nums(p.one).forEach(function(x) { pts.push([x, 1]) })
  nums(p.half).forEach(function(x) { pts.push([x, 0.5]) })
  nums(p.zero).forEach(function(x) { pts.push([x, 0]) })
  return pts
}

panels.forEach(function(p, i) {
  var b = p.box
  var x = d3.scaleLinear().domain([-3.15, 3.58]).range([0, b[2] - b[0]])
  var y = d3.scaleLinear().domain([-4, 104]).range([b[3] - b[1], 0])
  var g = svg.append("g").attr("transform", "translate(" + b[0] + "," + b[1] + ")")

  g.append("clipPath").attr("id", "clip" + i).append("rect")
    .attr("width", b[2] - b[0]).attr("height", b[3] - b[1])

  var plot = g.append("g").attr("clip-path", "url(#clip" + i + ")")
  plot.selectAll("circle").data(getPoints(p)).enter().append("circle")
    .attr("cx", function(d) { return x(d[0]) })
    .attr("cy", function(d) { return y(d[1]) })
    .attr("r", 2.3)
    .style("fill", "none")
    .style("stroke", "#bebebe")
    .style("stroke-width", 1)

  var line = d3.line().x(function(d) { return x(d[0]) }).y(function(d) { return y(d[1]) })
  plot.append("path").datum(p.line).attr("d", line)
    .style("fill", "none").style("stroke", "#000").style("stroke-width", 1.2)
  plot.append("path").datum(p.curve).attr("d", line.curve(d3.curveMonotoneX))
    .style("fill", "none").style("stroke", "#000").style("stroke-width", 1.2)

  // box
  g.append("rect").attr("width", b[2] - b[0]).attr("height", b[3] - b[1])
    .style("fill", "none").style("stroke", "#000").style("stroke-width", 1.1)

  var xa = g.append("g").attr("transform", "translate(0," + (b[3] - b[1]) + ")")
    .call(d3.axisBottom(x).tickValues(xTicks).tickSize(6).tickPadding(12).tickFormat(function(d) { return String(d) }))
  var ya = g.append("g")
    .call(d3.axisLeft(y).tickValues(yTicks).tickSize(6).tickFormat(function(d) { return String(d) }))
  xa.select(".domain").remove()
  ya.select(".domain").remove()
  ya.selectAll(".tick text").attr("x", null).attr("dy", null)
    .attr("text-anchor", "middle").attr("transform", "translate(-16,0) rotate(-90)")

  svg.append("text").attr("class", "title")
    .attr("x", (b[0] + b[2]) / 2).attr("y", p.ty)
    .attr("text-anchor", "middle").text(titles[i])
})

svg.append("text").attr("class", "big")
  .attr("text-anchor", "middle")
  .attr("transform", "translate(42,478) rotate(-90)")
  .text("Cover (%)")

svg.append("text").attr("class", "big")
  .attr("text-anchor", "middle")
  .attr("x", 674).attr("y", 978)
  .text("Coenocline (DCA Axis 1, SD units)")
</script>
</body>
</html>
